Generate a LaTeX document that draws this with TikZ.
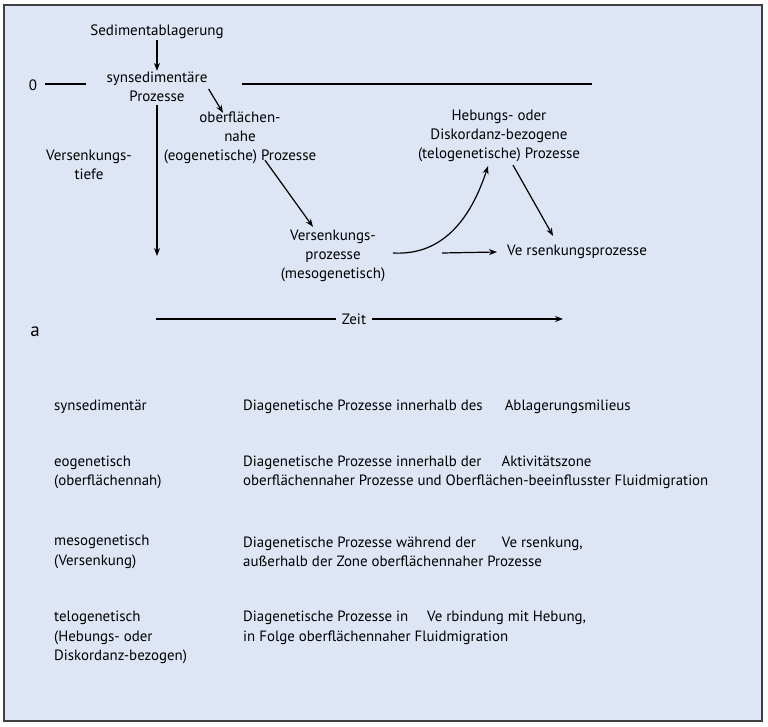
\documentclass[tikz,border=0pt]{standalone}
\usepackage{fontspec}
\setmainfont{PT Sans}
\usetikzlibrary{arrows.meta}
\definecolor{bg}{RGB}{222,229,245}
\definecolor{frame}{RGB}{64,64,64}
\begin{document}
\begin{tikzpicture}[x=1pt,y=-1pt,
  lbl/.style={font=\fontsize{15}{19}\selectfont, align=center, inner sep=1pt},
  tbl/.style={font=\fontsize{14.9}{19.5}\selectfont, align=left, anchor=west, inner sep=0pt},
  conn/.style={line width=1.2pt, -{Stealth[length=8pt,width=6pt]}},
  plain/.style={line width=1.2pt}]
\useasboundingbox (0,0) rectangle (768,727);
\draw[fill=bg, draw=frame, line width=1.5pt] (4,5) rectangle (762,721);
% diagram labels
\node[lbl] (sed) at (157,32) {Sedimentablagerung};
\node[lbl] (syn) at (157,87) {synsedimentäre\\Prozesse};
\node[lbl] (zero) at (33,85) {0};
\node[lbl] (obe) at (240,138) {oberflächen-\\nahe\\(eogenetische) Prozesse};
\node[lbl] (vt) at (89,165) {Versenkungs-\\tiefe};
\node[lbl] (ver) at (333,256) {Versenkungs-\\prozesse\\(mesogenetisch)};
\node[lbl] (heb) at (499,136) {Hebungs- oder\\Diskordanz-bezogene\\(telogenetische) Prozesse};
\node[lbl, anchor=west] (vp) at (506,252) {Ve rsenkungsprozesse};
\node[lbl] (zeit) at (354,319) {Zeit};
\node[lbl, font=\fontsize{19}{22}\selectfont] (a) at (35,332) {a};
% coordinates
\coordinate (z1) at (45,84);
\coordinate (z2) at (86,84);
\coordinate (s1) at (242,84);
\coordinate (s2) at (592,84);
\coordinate (d1) at (157,256);
\coordinate (c0) at (393,253);
\coordinate (c1) at (442,253);
\coordinate (t0) at (156,319);
\coordinate (t1) at (563,319);
% connectors
\draw[conn] (sed) -- (syn);
\draw[plain] (z1) -- (z2);
\draw[plain] (s1) -- (s2);
\draw[conn] ([yshift=-2pt]syn.south) -- (d1);
\draw[conn] ([yshift=-2pt]syn.east) -- ([xshift=-17pt,yshift=-2pt]obe.north);
\draw[conn] ([xshift=25pt,yshift=5pt]obe.south) -- ([xshift=-20pt,yshift=2pt]ver.north);
\draw[conn] (c0) .. controls (445,256) and (472,215) .. ([xshift=-11pt,yshift=-3pt]heb.south);
\draw[conn] (c1) -- ([xshift=-9pt]vp.west);
\draw[conn] ([xshift=14pt,yshift=-2pt]heb.south) -- ([xshift=-24pt,yshift=8pt]vp.north);
\draw[plain] (t0) -- ([xshift=-5pt]zeit.west);
\draw[conn] ([xshift=5pt]zeit.east) -- (t1);
% table
\node[tbl] (t1l) at (54,407) {synsedimentär};
\node[tbl] (t1r) at (243,407) {Diagenetische Prozesse innerhalb des\hspace{22pt}Ablagerungsmilieus};
\node[tbl] (t2l) at (54,472.5) {eogenetisch\\(oberflächennah)};
\node[tbl] (t2r) at (243,472.5) {Diagenetische Prozesse innerhalb der\hspace{20pt}Aktivitätszone\\oberflächennaher Prozesse und Oberflächen-beeinflusster Fluidmigration};
\node[tbl] (t3l) at (54,552) {mesogenetisch\\(Versenkung)};
\node[tbl] (t3r) at (243,552) {Diagenetische Prozesse während der\hspace{26pt}Ve rsenkung,\\außerhalb der Zone oberflächennaher Prozesse};
\node[tbl] (t4l) at (54,637.5) {telogenetisch\\(Hebungs- oder\\Diskordanz-bezogen)};
\node[tbl] (t4r) at (243,628) {Diagenetische Prozesse in\hspace{19pt}Ve rbindung mit Hebung,\\in Folge oberflächennaher Fluidmigration};
\end{tikzpicture}
\end{document}
